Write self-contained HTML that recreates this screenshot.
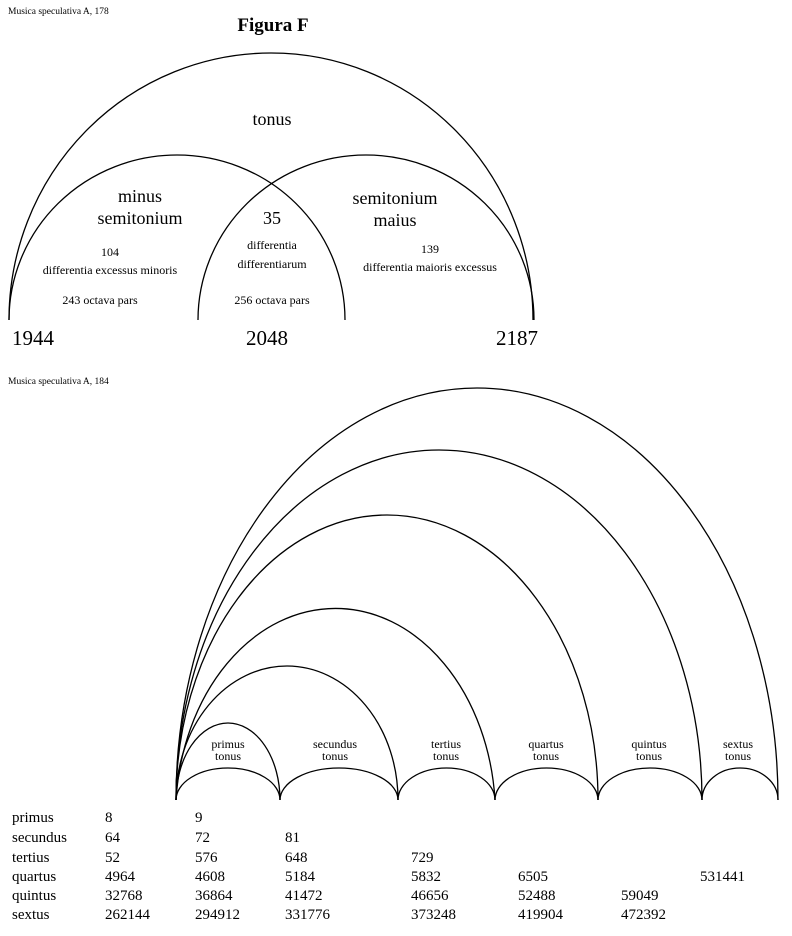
<!DOCTYPE html>
<html><head><meta charset="utf-8"><style>
html,body{margin:0;padding:0;background:#fff}
svg{display:block}
text{font-family:"Liberation Serif",serif;fill:#000}
</style></head><body>
<svg width="792" height="936" viewBox="0 0 792 936" xmlns="http://www.w3.org/2000/svg">
<g fill="none" stroke="#000" stroke-width="1.3">
<path d="M9 320 A262 267 0 0 1 533 320"/>
<path d="M9 320 A168 165 0 0 1 345 320"/>
<path d="M198 320 A168 165 0 0 1 534 320"/>
<path d="M176 800 A52 77 0 0 1 280 800"/>
<path d="M176 800 A111 134 0 0 1 398 800"/>
<path d="M176 800 A160 208 0 0 1 495 800"/>
<path d="M176 800 A211 285 0 0 1 598 800"/>
<path d="M176 800 A263 350 0 0 1 702 800"/>
<path d="M176 800 A301 412 0 0 1 778 800"/>
<path d="M176 800 A52 32 0 0 1 280 800"/>
<path d="M280 800 A59 32 0 0 1 398 800"/>
<path d="M398 800 A48.5 32 0 0 1 495 800"/>
<path d="M495 800 A51.5 32 0 0 1 598 800"/>
<path d="M598 800 A52 32 0 0 1 702 800"/>
<path d="M702 800 A38 32 0 0 1 778 800"/>
</g>
<g font-size="9.5"><text x="8" y="14">Musica speculativa A, 178</text><text x="8" y="384">Musica speculativa A, 184</text></g>
<text x="273" y="31" font-size="19" font-weight="bold" text-anchor="middle">Figura F</text>
<g text-anchor="middle">
<text x="272" y="125" font-size="18">tonus</text>
<text x="140" y="202" font-size="18">minus</text>
<text x="140" y="224" font-size="18">semitonium</text>
<text x="272" y="224" font-size="18">35</text>
<text x="395" y="204" font-size="18">semitonium</text>
<text x="395" y="226" font-size="18">maius</text>
<g font-size="12">
<text x="110" y="256">104</text>
<text x="110" y="274">differentia excessus minoris</text>
<text x="272" y="249">differentia</text>
<text x="272" y="268">differentiarum</text>
<text x="430" y="253">139</text>
<text x="430" y="271">differentia maioris excessus</text>
<text x="100" y="304">243 octava pars</text>
<text x="272" y="304">256 octava pars</text>
</g>
<g font-size="12">
<text x="228" y="748">primus</text><text x="228" y="760">tonus</text>
<text x="335" y="748">secundus</text><text x="335" y="760">tonus</text>
<text x="446" y="748">tertius</text><text x="446" y="760">tonus</text>
<text x="546" y="748">quartus</text><text x="546" y="760">tonus</text>
<text x="649" y="748">quintus</text><text x="649" y="760">tonus</text>
<text x="738" y="748">sextus</text><text x="738" y="760">tonus</text>
</g>
</g>
<g font-size="21">
<text x="12" y="345">1944</text>
<text x="246" y="345">2048</text>
<text x="496" y="345">2187</text>
</g>
<g font-size="15">
<text x="12" y="822">primus</text><text x="105" y="822">8</text><text x="195" y="822">9</text>
<text x="12" y="842">secundus</text><text x="105" y="842">64</text><text x="195" y="842">72</text><text x="285" y="842">81</text>
<text x="12" y="862">tertius</text><text x="105" y="862">52</text><text x="195" y="862">576</text><text x="285" y="862">648</text><text x="411" y="862">729</text>
<text x="12" y="881">quartus</text><text x="105" y="881">4964</text><text x="195" y="881">4608</text><text x="285" y="881">5184</text><text x="411" y="881">5832</text><text x="518" y="881">6505</text><text x="700" y="881">531441</text>
<text x="12" y="900">quintus</text><text x="105" y="900">32768</text><text x="195" y="900">36864</text><text x="285" y="900">41472</text><text x="411" y="900">46656</text><text x="518" y="900">52488</text><text x="621" y="900">59049</text>
<text x="12" y="919">sextus</text><text x="105" y="919">262144</text><text x="195" y="919">294912</text><text x="285" y="919">331776</text><text x="411" y="919">373248</text><text x="518" y="919">419904</text><text x="621" y="919">472392</text>
</g>
</svg>
</body></html>
